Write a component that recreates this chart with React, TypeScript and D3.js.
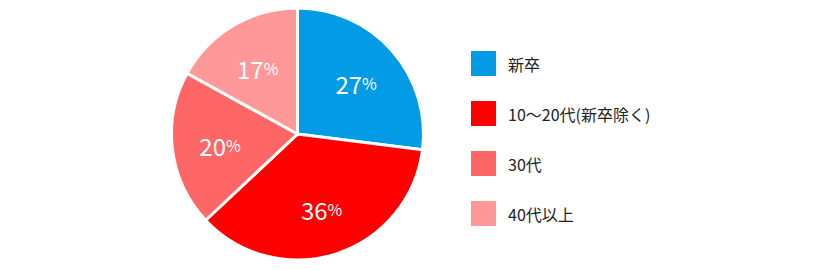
import React from "react";
import * as d3 from "d3";

const categories = ["新卒", "10〜20代(新卒除く)", "30代", "40代以上"];
const values = [27, 36, 20, 17];
const colors = ["#039be5", "#ff0000", "#ff6666", "#ff9999"];

export default function App() {
  const width = 820;
  const height = 270;
  const cx = 297.5;
  const cy = 134;
  const r = 126;
  const pie = d3.pie<number>().sort(null).value((d) => d)(values);
  const arc = d3.arc<d3.PieArcDatum<number>>().innerRadius(0).outerRadius(r);
  const labelArc = d3.arc<d3.PieArcDatum<number>>().innerRadius(r * 0.62).outerRadius(r * 0.62);
  const legendY = d3.scaleBand<number>().domain(d3.range(categories.length)).range([51, 251]);
  const font = "'Noto Sans CJK JP', 'Noto Sans', sans-serif";
  return (
    <svg width={width} height={height} style={{ position: "absolute", left: 0, top: 0 }}>
      <g transform={`translate(${cx},${cy})`}>
        {pie.map((p, i) => (
          <path key={i} d={arc(p) || ""} fill={colors[i]} stroke="#fff" strokeWidth={3} />
        ))}
        {pie.map((p, i) => {
          const [x, y] = labelArc.centroid(p);
          return (
            <text key={i} x={x} y={y + 1} textAnchor="middle" dominantBaseline="central" fill="#fff" fontFamily={font}>
              <tspan fontSize={24}>{values[i]}</tspan>
              <tspan fontSize={16}>%</tspan>
            </text>
          );
        })}
      </g>
      {categories.map((c, i) => (
        <g key={i} transform={`translate(471,${legendY(i)})`}>
          <rect width={25} height={25} fill={colors[i]} />
          <text x={37} y={13} dominantBaseline="central" fontSize={16} fill="#222" fontFamily={font}>
            {c}
          </text>
        </g>
      ))}
    </svg>
  );
}
